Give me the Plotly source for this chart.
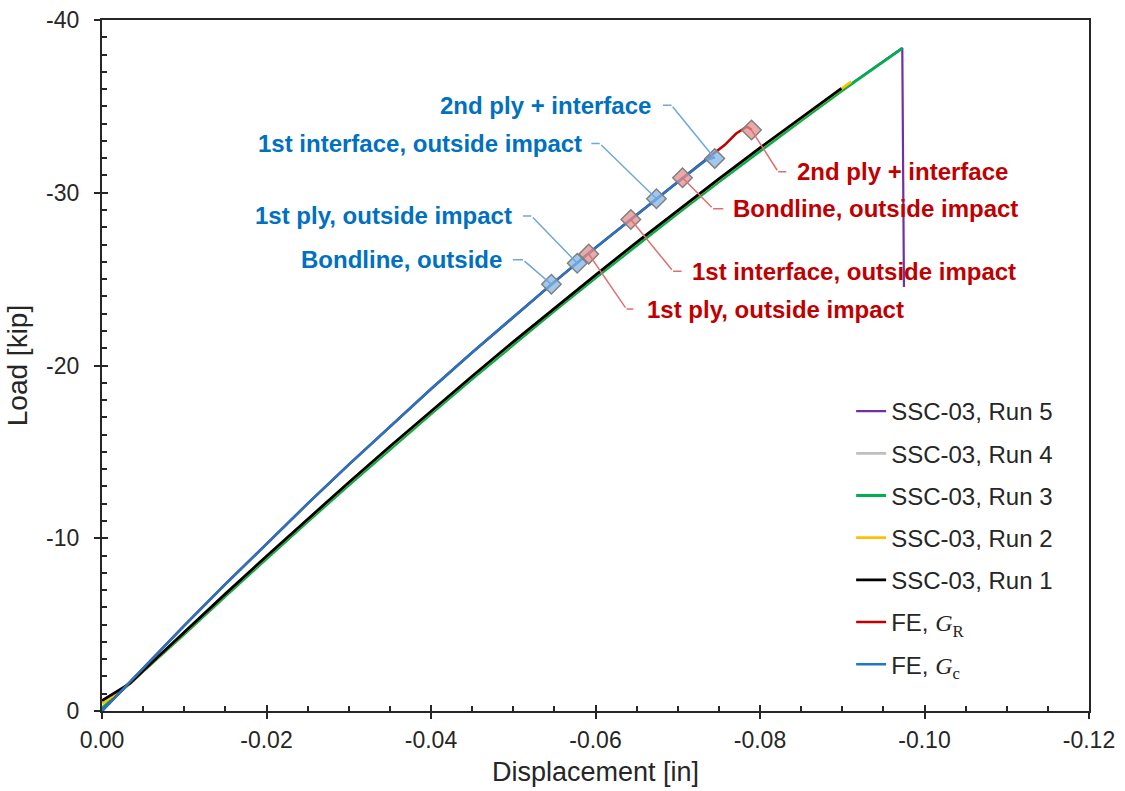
import plotly.graph_objects as go

# ---------------- data (displacement [in], load [kip]) ----------------
fe_gc_x = [0.0, -0.005, -0.01, -0.015, -0.02, -0.025, -0.03, -0.035, -0.04, -0.045,
           -0.05, -0.055, -0.06, -0.065, -0.07, -0.0735, -0.0745]
fe_gc_y = [0.0, -2.50, -4.94, -7.34, -9.70, -12.00, -14.26, -16.47, -18.64, -20.75,
           -22.82, -24.84, -26.82, -28.74, -30.62, -31.91, -32.05]

fe_gr_x = [0.0, -0.005, -0.01, -0.015, -0.02, -0.025, -0.03, -0.035, -0.04, -0.045,
           -0.05, -0.055, -0.06, -0.065, -0.07, -0.0735, -0.0757, -0.0771, -0.0784, -0.0790]
fe_gr_y = [0.0, -2.50, -4.94, -7.34, -9.70, -12.00, -14.26, -16.47, -18.64, -20.75,
           -22.82, -24.84, -26.82, -28.74, -30.62, -31.95, -32.76, -33.43, -33.82, -33.65]

run1_x = [0.0, -0.0015, -0.0034, -0.006, -0.01, -0.015, -0.02, -0.025, -0.03, -0.035, -0.04,
          -0.045, -0.05, -0.055, -0.06, -0.065, -0.07, -0.075, -0.08, -0.085, -0.0899]
run1_y = [-0.60, -1.05, -1.60, -2.78, -4.57, -6.78, -8.96, -11.11, -13.23, -15.31, -17.36,
          -19.38, -21.37, -23.32, -25.23, -27.13, -28.98, -30.80, -32.60, -34.35, -36.04]

run2_x = [0.0, -0.0015, -0.0034, -0.006, -0.01, -0.015, -0.02, -0.025, -0.03, -0.035, -0.04,
          -0.045, -0.05, -0.055, -0.06, -0.065, -0.07, -0.075, -0.08, -0.085, -0.0899, -0.0911]
run2_y = [-0.43, -0.95, -1.58, -2.76, -4.55, -6.76, -8.94, -11.09, -13.21, -15.29, -17.34,
          -19.36, -21.35, -23.30, -25.21, -27.11, -28.96, -30.78, -32.58, -34.33, -36.02, -36.43]

run3_x = [0.0, -0.002, -0.004, -0.006, -0.01, -0.015, -0.02, -0.025, -0.03, -0.035, -0.04,
          -0.045, -0.05, -0.055, -0.06, -0.065, -0.07, -0.075, -0.08, -0.085, -0.0899,
          -0.0925, -0.095, -0.0973]
run3_y = [-0.15, -1.00, -1.90, -2.70, -4.45, -6.65, -8.82, -10.96, -13.07, -15.15, -17.20,
          -19.22, -21.21, -23.16, -25.07, -26.96, -28.81, -30.63, -32.43, -34.18, -35.88,
          -36.75, -37.55, -38.36]

run4_x = [0.0, -0.002, -0.004, -0.006, -0.01, -0.015, -0.02, -0.025, -0.03, -0.035, -0.04,
          -0.045, -0.05, -0.055, -0.06, -0.065, -0.07, -0.075, -0.08, -0.085, -0.0905]
run4_y = [-0.20, -1.05, -1.95, -2.75, -4.50, -6.70, -8.87, -11.01, -13.12, -15.20, -17.25,
          -19.27, -21.26, -23.21, -25.12, -27.01, -28.86, -30.68, -32.48, -34.23, -36.10]

run5_x = [0.0, -0.002, -0.004, -0.006, -0.01, -0.015, -0.02, -0.025, -0.03, -0.035, -0.04,
          -0.045, -0.05, -0.055, -0.06, -0.065, -0.07, -0.075, -0.08, -0.085, -0.0899,
          -0.0925, -0.095, -0.0973, -0.0975]
run5_y = [-0.18, -1.03, -1.93, -2.73, -4.48, -6.68, -8.85, -10.99, -13.10, -15.18, -17.23,
          -19.25, -21.24, -23.19, -25.10, -26.99, -28.84, -30.66, -32.46, -34.21, -35.91,
          -36.78, -37.58, -38.38, -24.55]

gc_event_x = [-0.05464, -0.05778, -0.06741, -0.07450]
gc_event_y = [-24.70, -25.92, -29.65, -31.98]
gc_event_labels = ["Bondline, outside", "1st ply, outside impact",
                   "1st interface, outside impact", "2nd ply + interface"]

gr_event_x = [-0.05918, -0.06429, -0.07058, -0.07897]
gr_event_y = [-26.45, -28.45, -30.87, -33.63]
gr_event_labels = ["1st ply, outside impact", "1st interface, outside impact",
                   "Bondline, outside impact", "2nd ply + interface"]

x_tick_vals = [0.0, -0.02, -0.04, -0.06, -0.08, -0.10, -0.12]
x_tick_text = ["0.00", "-0.02", "-0.04", "-0.06", "-0.08", "-0.10", "-0.12"]
y_tick_vals = [0, -10, -20, -30, -40]
y_tick_text = ["0", "-10", "-20", "-30", "-40"]

# minor tick positions (every 0.005 in, every 1 kip)
x_minor_vals = [-k * 0.005 for k in range(25) if k % 4]
y_minor_vals = [-k for k in range(41) if k % 10]

# ---------------- styling ----------------
FONT = "Liberation Sans, Arial, sans-serif"
TXT = "#262626"
AXC = "#262626"
BLUE_TXT = "#0070C0"
RED_TXT = "#C00000"
SERIF = "<span style='font-family:Liberation Serif'>"

fig = go.Figure()

series = [
    ("SSC-03, Run 5", run5_x, run5_y, "#7030A0", 2.2),
    ("SSC-03, Run 4", run4_x, run4_y, "#BFBFBF", 2.8),
    ("SSC-03, Run 3", run3_x, run3_y, "#00B050", 2.8),
    ("SSC-03, Run 2", run2_x, run2_y, "#FFC000", 2.8),
    ("SSC-03, Run 1", run1_x, run1_y, "#000000", 2.8),
    (f"FE, <i>{SERIF}G</span></i><sub>{SERIF}R</span></sub>", fe_gr_x, fe_gr_y, "#C00000", 2.5),
    (f"FE, <i>{SERIF}G</span></i><sub>{SERIF}c</span></sub>", fe_gc_x, fe_gc_y, "#1F77C9", 2.5),
]
for i, (name, xs, ys, col, w) in enumerate(series):
    fig.add_trace(go.Scatter(x=xs, y=ys, mode="lines", name=name,
                             line=dict(color=col, width=w),
                             legendgroup=f"g{i}", hoverinfo="skip"))

# event markers live on the overlay axes (same ranges), which also carry the inner half of the major ticks
fig.add_trace(go.Scatter(x=gc_event_x, y=gc_event_y, mode="markers", showlegend=False,
                         xaxis="x2", yaxis="y2",
                         marker=dict(symbol="diamond", size=15,
                                     color="rgba(130,180,230,0.75)",
                                     line=dict(color="#808080", width=1.5)),
                         hoverinfo="skip"))
fig.add_trace(go.Scatter(x=gr_event_x, y=gr_event_y, mode="markers", showlegend=False,
                         xaxis="x2", yaxis="y2",
                         marker=dict(symbol="diamond", size=15,
                                     color="rgba(230,140,140,0.75)",
                                     line=dict(color="#808080", width=1.5)),
                         hoverinfo="skip"))

# leader geometry (pixels): elbow offset dx, dy from marker, horizontal length, text gap
gc_leaders = [(-28.4, -24.5, 11.6, 7), (-45.8, -47.3, 10, 7),
              (-56.7, -55.3, 10, 6), (-43.3, -53.3, 10, 8)]
gr_leaders = [(37.7, 55.0, 8.3, 10), (42.3, 51.7, 10, 7),
              (30.6, 31.0, 11.7, 6), (26.6, 41.7, 9.7, 7)]

ann = []
def add_labels(xs, ys, labels, leaders, side, lcol, tcol):
    sgn = 1 if side == "right" else -1
    for x, y, lab, (dx, dy, hl, gap) in zip(xs, ys, labels, leaders):
        ann.append(dict(x=x, y=y, xref="x", yref="y", text="", showarrow=True,
                        arrowhead=0, arrowwidth=1.5, arrowcolor=lcol,
                        ax=dx, ay=dy, standoff=0, startstandoff=0))
        ann.append(dict(x=x, y=y, xref="x", yref="y", text="", showarrow=True,
                        arrowhead=0, arrowwidth=1.5, arrowcolor=lcol,
                        xshift=dx, yshift=-dy, ax=sgn * hl, ay=0,
                        standoff=0, startstandoff=0))
        ann.append(dict(x=x, y=y, xref="x", yref="y", text=f"<b>{lab}</b>",
                        showarrow=False, xanchor="left" if side == "right" else "right",
                        yanchor="middle", xshift=dx + sgn * (hl + gap), yshift=-dy,
                        font=dict(family=FONT, size=24, color=tcol)))

add_labels(gc_event_x, gc_event_y, gc_event_labels, gc_leaders, "left", "#6FA8DC", BLUE_TXT)
add_labels(gr_event_x, gr_event_y, gr_event_labels, gr_leaders, "right", "#E07070", RED_TXT)

fig.update_layout(
    width=1125, height=791,
    margin=dict(l=102, r=36, t=20, b=80, autoexpand=False),
    paper_bgcolor="white", plot_bgcolor="white",
    font=dict(family=FONT, color=TXT),
    annotations=ann,
    showlegend=True,
    legend=dict(x=0.759, y=0.466, xanchor="left", yanchor="top",
                bgcolor="rgba(0,0,0,0)", borderwidth=0,
                font=dict(family=FONT, size=24, color=TXT),
                traceorder="grouped", tracegroupgap=8, itemwidth=30),
    xaxis=dict(range=[0, -0.12], tickmode="array", tickvals=x_tick_vals,
               ticktext=x_tick_text, ticks="outside", ticklen=6, tickwidth=2,
               tickcolor=AXC, showline=True, linecolor=AXC, linewidth=2.2, mirror=True,
               showgrid=False, zeroline=False, ticklabelstandoff=1, automargin=False,
               tickfont=dict(family=FONT, size=23, color=TXT),
               minor=dict(tickmode="array", tickvals=x_minor_vals, ticks="inside",
                          ticklen=5, tickwidth=1.6, tickcolor=AXC, showgrid=False),
               title=dict(text="Displacement [in]", standoff=10,
                          font=dict(family=FONT, size=27, color=TXT))),
    yaxis=dict(range=[0, -40], tickmode="array", tickvals=y_tick_vals,
               ticktext=y_tick_text, ticks="outside", ticklen=6, tickwidth=2,
               tickcolor=AXC, showline=True, linecolor=AXC, linewidth=2.2, mirror=True,
               showgrid=False, zeroline=False, ticklabelstandoff=10, automargin=False,
               tickfont=dict(family=FONT, size=23, color=TXT),
               minor=dict(tickmode="array", tickvals=y_minor_vals, ticks="inside",
                          ticklen=5, tickwidth=1.6, tickcolor=AXC, showgrid=False),
               title=dict(text="Load [kip]", standoff=10,
                          font=dict(family=FONT, size=28, color=TXT))),
    xaxis2=dict(overlaying="x", matches="x", anchor="y2", side="bottom",
                tickmode="array", tickvals=x_tick_vals, ticks="inside", ticklen=6,
                tickwidth=2, tickcolor=AXC, showticklabels=False, showline=False,
                showgrid=False, zeroline=False, automargin=False),
    yaxis2=dict(overlaying="y", matches="y", anchor="x2", side="left",
                tickmode="array", tickvals=y_tick_vals, ticks="inside", ticklen=6,
                tickwidth=2, tickcolor=AXC, showticklabels=False, showline=False,
                showgrid=False, zeroline=False, automargin=False),
)

fig.write_html("out.html")
